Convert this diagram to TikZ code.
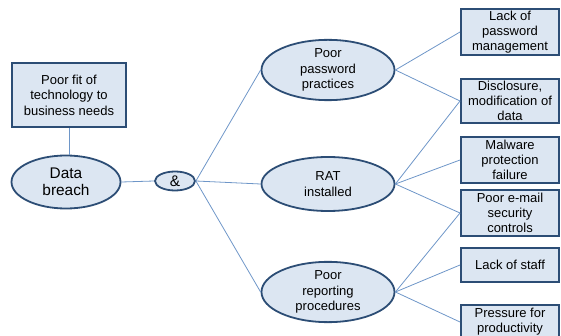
\documentclass[tikz,border=0pt]{standalone}
\usepackage{fontspec}
\setmainfont{Liberation Sans}
\usetikzlibrary{shapes.geometric}
\definecolor{fillb}{RGB}{220,230,242}
\definecolor{edgeb}{RGB}{44,77,117}
\definecolor{linkb}{RGB}{110,150,200}
\tikzset{
  ell/.style={ellipse,draw=edgeb,line width=1.8pt,fill=fillb,inner sep=0pt,align=center,
    font=\fontsize{13}{15.5}\selectfont},
  rbox/.style={rectangle,draw=edgeb,line width=2pt,fill=fillb,inner sep=0pt,align=center,
    minimum width=98pt,font=\fontsize{13}{14.8}\selectfont},
  link/.style={draw=linkb,line width=0.8pt}
}
\begin{document}
\begin{tikzpicture}[x=1pt,y=-1pt]
\useasboundingbox (0,0) rectangle (561,336);
\clip (0,0) rectangle (561,336);
% nodes
\node[rbox,minimum width=114pt,minimum height=64pt,font=\fontsize{13}{15.5}\selectfont] (pf) at (69,95) {Poor fit of\\technology to\\business needs};
\node[ell,minimum width=109pt,minimum height=53pt,font=\fontsize{15.4}{17}\selectfont] (db) at (66,182) {Data\\breach};
\node[ell,minimum width=40pt,minimum height=19pt,font=\fontsize{15.4}{17}\selectfont] (amp) at (175,181) {\&};
\node[ell,minimum width=133pt,minimum height=55pt] (pp) at (328,70) {Poor\\password\\practices};
\node[ell,minimum width=133pt,minimum height=54pt] (rat) at (328,184) {RAT\\installed};
\node[ell,minimum width=133pt,minimum height=57pt] (pr) at (328,292) {Poor\\reporting\\procedures};
\node[rbox,minimum height=46pt] (b1) at (510,32) {Lack of\\password\\management};
\node[rbox,minimum height=44pt] (b2) at (510,101) {Disclosure,\\modification of\\data};
\node[rbox,minimum height=46pt] (b3) at (510,160) {Malware\\protection\\failure};
\node[rbox,minimum height=46pt] (b4) at (510,213) {Poor e-mail\\security\\controls};
\node[rbox,minimum height=34pt] (b5) at (510,265) {Lack of staff};
\node[rbox,minimum height=34pt] (b6) at (510,322) {Pressure for\\productivity};
% connectors
\draw[link] (pf.south) -- (pf.south |- db.north);
\draw[link] (db.east) -- (amp.west);
\draw[link] (amp.east) -- (pp.west);
\draw[link] (amp.east) -- (rat.west);
\draw[link] (amp.east) -- (pr.west);
\draw[link] (pp.east) -- (b1.west);
\draw[link] (pp.east) -- (b2.west);
\draw[link] (rat.east) -- (b2.west);
\draw[link] (rat.east) -- (b3.west);
\draw[link] (rat.east) -- (b4.west);
\draw[link] (pr.east) -- (b4.west);
\draw[link] (pr.east) -- (b5.west);
\draw[link] (pr.east) -- (b6.west);
\end{tikzpicture}
\end{document}
